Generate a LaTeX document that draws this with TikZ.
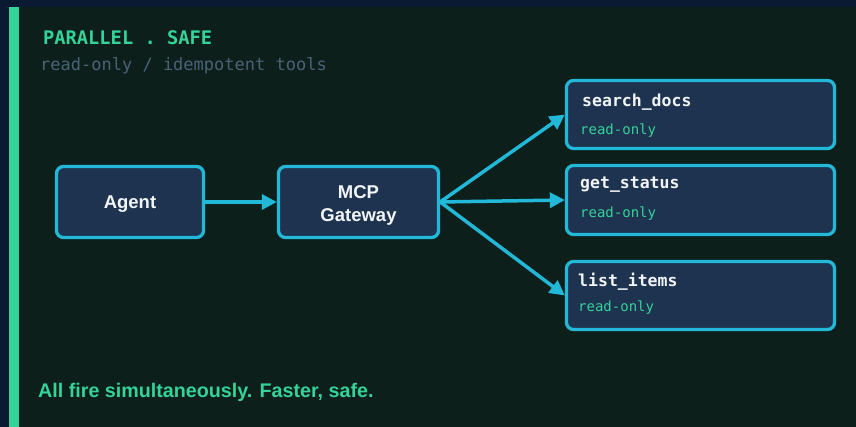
\documentclass[tikz,border=0pt]{standalone}
\usepackage{fontspec}
\setmainfont{Liberation Sans}
\newfontfamily\monofam{DejaVu Sans Mono}
\usetikzlibrary{arrows.meta}
\definecolor{navy}{HTML}{0B1A33}
\definecolor{panel}{HTML}{0C1F1A}
\definecolor{mint}{HTML}{34D399}
\definecolor{cyanb}{HTML}{22B8D8}
\definecolor{boxfill}{HTML}{1E3350}
\definecolor{subgray}{HTML}{4A6278}
\definecolor{whitetxt}{HTML}{F2F5F7}
\tikzset{
  box/.style={draw=cyanb, line width=3.3pt, fill=boxfill, rounded corners=7pt, inner sep=0pt},
  boxlabel/.style={text=whitetxt, font=\fontsize{18.5}{23}\selectfont\bfseries, align=center},
  toolname/.style={anchor=base west, inner sep=0pt, text=whitetxt, font=\monofam\fontsize{16.5}{20}\selectfont\bfseries},
  toolnote/.style={anchor=base west, inner sep=0pt, text=mint, font=\monofam\fontsize{14}{17}\selectfont},
  conn/.style={draw=cyanb, line width=3.5pt, -{Triangle[length=15pt,width=15pt]}},
}
\begin{document}
\begin{tikzpicture}[x=1pt,y=1pt]
\useasboundingbox (0,0) rectangle (856,427);
\fill[navy] (0,0) rectangle (856,427);
\fill[panel] (9,0) rectangle (856,420);
\fill[mint] (9,0) rectangle (19,420);

\node[anchor=base west, inner sep=0pt, text=mint, font=\monofam\fontsize{18.7}{22}\selectfont\bfseries] (title) at (43,382) {PARALLEL . SAFE};
\node[anchor=base west, inner sep=0pt, text=subgray, font=\monofam\fontsize{17}{20}\selectfont] (subtitle) at (40,356) {read-only / idempotent tools};

\node[box, minimum width=147pt, minimum height=71pt] (ag) at (130,225) {};
\node[boxlabel] (agt) at ([yshift=-2pt]ag.center) {Agent};
\node[box, minimum width=160pt, minimum height=71pt] (gw) at (358.5,225) {};
\node[boxlabel] (gwt) at ([yshift=-3pt]gw.center) {MCP\\Gateway};

\node[box, minimum width=268pt, minimum height=68pt] (sd) at (700.5,312.5) {};
\node[box, minimum width=268pt, minimum height=69pt] (gs) at (700.5,227) {};
\node[box, minimum width=268pt, minimum height=68pt] (li) at (700.5,131.5) {};

\node[toolname] (sdn) at (582,320) {search\_docs};
\node[toolnote] (sdr) at (580,292) {read-only};
\node[toolname] (gsn) at (580,238) {get\_status};
\node[toolnote] (gsr) at (580,209) {read-only};
\node[toolname] (lin) at (578,140) {list\_items};
\node[toolnote] (lir) at (578,115) {read-only};

\draw[conn] (ag.east) -- (gw.west);
\draw[conn] (gw.east) -- (sd.west);
\draw[conn] (gw.east) -- (gs.west);
\draw[conn] (gw.east) -- (li.west);

\node[anchor=base west, inner sep=0pt, text=mint, font=\fontsize{19.7}{23}\selectfont\bfseries] (foot) at (38,29) {All fire simultaneously. Faster, safe.};
\end{tikzpicture}
\end{document}
